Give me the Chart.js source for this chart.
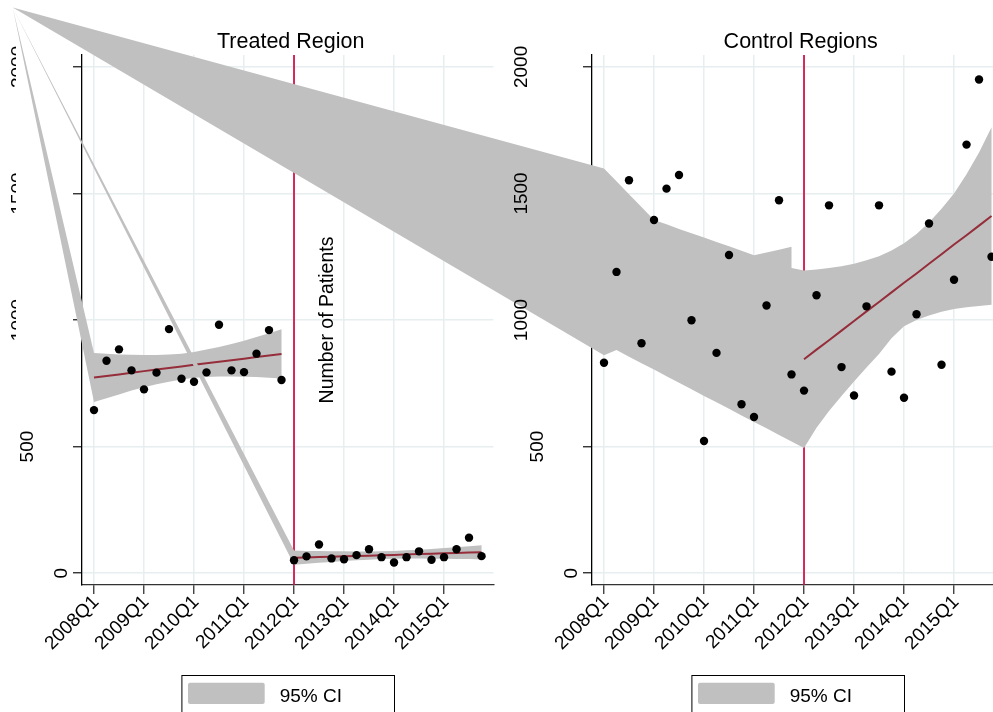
<!DOCTYPE html>
<html>
<head>
<meta charset="utf-8">
<script src="https://cdn.jsdelivr.net/npm/chart.js@4.4.1/dist/chart.umd.min.js"></script>
<style>
html, body { margin: 0; padding: 0; background: #fff; overflow: hidden; }
#wrap { position: relative; width: 993px; height: 712px; overflow: hidden; }
#wrap canvas { position: absolute; left: 0; top: 0; }
</style>
</head>
<body>
<div id="wrap">
    <canvas id="treated" width="993" height="712"></canvas>
    <canvas id="control" width="1010" height="712"></canvas>
</div>
<script>
// quarter index: 0 = 2008Q1 ... 31 = 2015Q4
const quarters = Array.from({length: 32}, (_, i) => i);
const xTickQuarters = [0, 4, 8, 12, 16, 20, 24, 28];
const xTickLabels = ['2008Q1', '2009Q1', '2010Q1', '2011Q1', '2012Q1', '2013Q1', '2014Q1', '2015Q1'];
const yTicks = [0, 500, 1000, 1500, 2000];
const treatStart = 16; // 2012Q1
const legendLabel = '95% CI';
const yTitle = 'Number of Patients';

// Treated region
const treatedPatients = [644, 839, 884, 801, 726, 792, 964, 768, 756, 793, 981, 801, 794, 867, 960, 763,
                         51, 66, 113, 58, 55, 71, 94, 63, 42, 63, 86, 53, 63, 94, 140, 67];
const treatedFitPre  = [773, 779, 785, 792, 798, 804, 810, 816, 823, 829, 835, 841, 847, 854, 860, 866];
const treatedCiPreHi = [870, 867, 864, 863, 862, 862, 864, 867, 874, 883, 893, 905, 918, 933, 948, 963];
const treatedCiPreLo = [676, 691, 706, 721, 734, 746, 756, 765, 772, 775, 777, 777, 776, 775, 772, 769];
const treatedFitPost  = [61, 62, 64, 65, 67, 68, 69, 71, 72, 74, 75, 76, 78, 79, 81, 82];
const treatedCiPostHi = [89, 87, 87, 86, 86, 85, 85, 86, 87, 90, 92, 95, 99, 102, 106, 110];
const treatedCiPostLo = [33, 37, 41, 44, 48, 51, 53, 56, 57, 58, 58, 57, 57, 56, 56, 54];
const treatedStray = [-6.5, 2235]; // stray band vertex in the original export

// Control regions
const controlPatients = [831, 1190, 1552, 908, 1395, 1519, 1573, 999, 522, 870, 1257, 667, 617, 1057, 1473, 785,
                         721, 1098, 1453, 814, 702, 1054, 1453, 796, 693, 1023, 1381, 823, 1159, 1693, 1950, 1250];
const controlFitPost = [845, 883, 920, 958, 996, 1034, 1071, 1109, 1147, 1184, 1222, 1260, 1298, 1335, 1373, 1411];
const controlCiHi = [1599, 1548, 1497, 1446, 1395, 1378, 1360, 1343, 1326, 1308, 1291, 1274, 1256, 1267, 1278, 1289,
                     1196, 1200, 1205, 1212, 1222, 1236, 1252, 1275, 1303, 1340, 1385, 1440, 1500, 1576, 1662, 1762];
const controlCiHiStep = 1205; // upper edge drops to this at 2011Q4 before the post band
const controlCiLo = [861, 881, 855, 829, 804, 778, 752, 726, 700, 675, 649, 623, 597, 572, 546, 520,
                     494, 574, 640, 700, 757, 812, 866, 928, 975, 1000, 1018, 1033, 1043, 1050, 1055, 1060];
const controlStray = [-47.3, 2235];

const FONT = '"Liberation Sans", Arial, sans-serif';
const ciGray = '#c0c0c0';
const fitColor = '#952d3a';
const eventColor = '#d2164c';
const gridColor = '#e6eef0';

const pts = (xs, ys) => xs.map((x, i) => ({x: x, y: ys[i]}));

// polygon: stray vertex, upper edge left->right, lower edge right->left
function bandPolygon(stray, xs, hi, lo) {
    const poly = [{x: stray[0], y: stray[1]}];
    xs.forEach((x, i) => poly.push({x: x, y: hi[i]}));
    for (let i = xs.length - 1; i >= 0; i--) poly.push({x: xs[i], y: lo[i]});
    return poly;
}

// bands are drawn as filled polygons through the dataset's own points (not clipped, like the original)
const bandPlugin = {
    id: 'bands',
    beforeDatasetDraw(chart, args) {
        const ds = chart.data.datasets[args.index];
        if (!ds.band) return;
        const ctx = chart.ctx;
        ctx.save();
        ctx.beginPath();
        args.meta.data.forEach((p, i) => i ? ctx.lineTo(p.x, p.y) : ctx.moveTo(p.x, p.y));
        ctx.closePath();
        ctx.fillStyle = ds.backgroundColor;
        ctx.fill();
        ctx.restore();
    }
};

function decorPlugin(title, showYTitle, clipThousands) {
    return {
        id: 'decor',
        beforeDatasetsDraw(chart) {
            const ctx = chart.ctx, a = chart.chartArea;
            const x = chart.scales.x.getPixelForValue(treatStart);
            ctx.save();
            ctx.strokeStyle = eventColor;
            ctx.lineWidth = 1.8;
            ctx.beginPath();
            ctx.moveTo(x, a.top);
            ctx.lineTo(x, a.bottom);
            ctx.stroke();
            ctx.restore();
        },
        afterDraw(chart) {
            const ctx = chart.ctx, a = chart.chartArea;
            const xs = chart.scales.x, ys = chart.scales.y;
            const cx = (a.left + a.right) / 2;
            ctx.save();
            ctx.fillStyle = '#000';

            // panel title
            ctx.font = '21.5px ' + FONT;
            ctx.textAlign = 'center';
            ctx.textBaseline = 'alphabetic';
            ctx.fillText(title, cx + 3, 48);

            // y tick labels (vertical)
            ctx.font = '19px ' + FONT;
            yTicks.forEach(v => {
                const txt = String(v);
                const gap = txt.length > 3 ? (clipThousands ? 58 : 65) : 15 + 17 * (txt.length - 1);
                ctx.save();
                if (clipThousands && txt.length > 3) {
                    // the original cuts these labels off at the figure margin
                    ctx.beginPath();
                    ctx.rect(0, 0, 16, chart.height);
                    ctx.clip();
                }
                ctx.translate(a.left - gap, ys.getPixelForValue(v));
                ctx.rotate(-Math.PI / 2);
                ctx.textAlign = 'center';
                ctx.textBaseline = 'alphabetic';
                ctx.fillText(txt, 0, 0);
                ctx.restore();
            });

            // x tick labels (45 degrees)
            xTickQuarters.forEach((q, i) => {
                ctx.save();
                ctx.translate(xs.getPixelForValue(q) + 2, a.bottom + 14);
                ctx.rotate(-Math.PI / 4);
                ctx.textAlign = 'right';
                ctx.textBaseline = 'middle';
                ctx.fillText(xTickLabels[i], 0, 0);
                ctx.restore();
            });

            // y title, sitting inside the treated panel as in the original
            if (showYTitle) {
                ctx.save();
                ctx.font = '19.5px ' + FONT;
                ctx.translate(xs.getPixelForValue(treatStart) + 39, (a.top + a.bottom) / 2);
                ctx.rotate(-Math.PI / 2);
                ctx.textAlign = 'center';
                ctx.textBaseline = 'alphabetic';
                ctx.fillText(yTitle, 0, 0);
                ctx.restore();
            }

            // legend box
            const bx = cx - 106.3;
            ctx.strokeStyle = '#000';
            ctx.lineWidth = 1;
            ctx.strokeRect(bx + 0.5, 675.5, 212.6, 60);
            ctx.fillStyle = ciGray;
            ctx.beginPath();
            ctx.roundRect(bx + 6.6, 682.7, 76.7, 21.3, 2);
            ctx.fill();
            ctx.fillStyle = '#000';
            ctx.font = '19px ' + FONT;
            ctx.textAlign = 'left';
            ctx.fillText(legendLabel, bx + 98.3, 701.5);
            ctx.restore();
        }
    };
}

function makePanel(canvasId, padding, datasets, title, showYTitle, clipThousands) {
    return new Chart(document.getElementById(canvasId), {
        type: 'scatter',
        data: { datasets: datasets },
        options: {
            responsive: false,
            animation: false,
            events: [],
            layout: { padding: padding },
            plugins: { legend: { display: false }, tooltip: { enabled: false } },
            scales: {
                x: {
                    type: 'linear', min: -0.96, max: 31.95,
                    afterBuildTicks: s => { s.ticks = xTickQuarters.map(v => ({value: v})); },
                    afterFit: s => { s.height = 9; },
                    ticks: { display: false },
                    grid: { color: gridColor, lineWidth: 1.5, tickLength: 9, tickColor: '#333', tickWidth: 1.3 },
                    border: { color: '#333', width: 1.3 }
                },
                y: {
                    type: 'linear', min: -47, max: 2047,
                    afterBuildTicks: s => { s.ticks = yTicks.map(v => ({value: v})); },
                    afterFit: s => { s.width = 9; },
                    ticks: { display: false },
                    grid: { color: gridColor, lineWidth: 1.5, tickLength: 9, tickColor: '#222', tickWidth: 1.3 },
                    border: { color: '#000', width: 1.3 }
                }
            }
        },
        plugins: [bandPlugin, decorPlugin(title, showYTitle, clipThousands)]
    });
}

const preQ = quarters.slice(0, treatStart);
const postQ = quarters.slice(treatStart);
const dotStyle = { pointRadius: 4.2, pointBackgroundColor: '#000', pointBorderWidth: 0, showLine: false };
const fitStyle = { showLine: true, borderColor: fitColor, borderWidth: 2, pointRadius: 0 };
const bandStyle = { band: true, backgroundColor: ciGray, pointRadius: 0, showLine: false };

// first dataset is drawn last (on top)
makePanel('treated', { left: 73, right: 499.6, top: 55, bottom: 118 }, [
    Object.assign({ data: pts(quarters, treatedPatients) }, dotStyle),
    Object.assign({ data: pts(postQ, treatedFitPost) }, fitStyle),
    Object.assign({ data: bandPolygon(treatedStray, postQ, treatedCiPostHi, treatedCiPostLo) }, bandStyle),
    Object.assign({ data: pts(preQ, treatedFitPre) }, fitStyle),
    Object.assign({ data: bandPolygon(treatedStray, preQ, treatedCiPreHi, treatedCiPreLo) }, bandStyle)
], 'Treated Region', true, true);

// control band: one polygon across both periods, with the step at 2011Q4
const controlPoly = [{x: controlStray[0], y: controlStray[1]}];
quarters.forEach(q => {
    controlPoly.push({x: q, y: controlCiHi[q]});
    if (q === treatStart - 1) controlPoly.push({x: q, y: controlCiHiStep});
});
for (let q = quarters.length - 1; q >= treatStart; q--) controlPoly.push({x: q, y: controlCiLo[q]});
for (let q = treatStart - 1; q >= 0; q--) controlPoly.push({x: q, y: controlCiLo[q]});

makePanel('control', { left: 583, right: 6.6, top: 55, bottom: 118 }, [
    Object.assign({ data: pts(quarters, controlPatients) }, dotStyle),
    Object.assign({ data: pts(postQ, controlFitPost) }, fitStyle),
    Object.assign({ data: controlPoly }, bandStyle)
], 'Control Regions', false, false);
</script>
</body>
</html>
